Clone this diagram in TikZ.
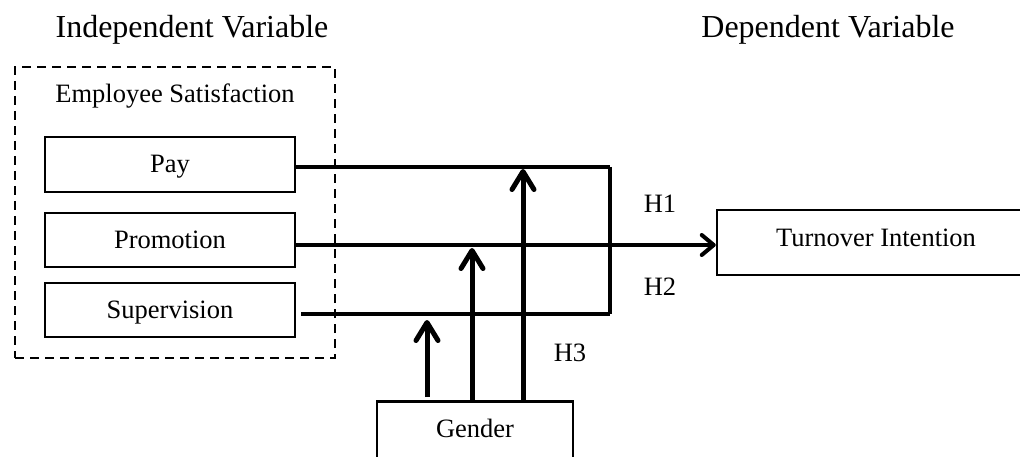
\documentclass[tikz,border=0pt]{standalone}
\usepackage{fontspec}
\setmainfont{Liberation Serif}
\usetikzlibrary{arrows.meta}
\begin{document}
\begin{tikzpicture}[x=1pt,y=-1pt,
  box/.style={draw,line width=2.5pt,inner sep=0pt,text height=18pt,text depth=2pt,font=\fontsize{26.5}{30}\selectfont},
  lbl/.style={inner sep=0pt,font=\fontsize{26.5}{30}\selectfont},
  hdr/.style={inner sep=0pt,font=\fontsize{32}{36}\selectfont},
  conn/.style={line width=3.5pt},
  uparr/.style={line width=5pt,-{Straight Barb[length=18pt,width=22pt,line width=5pt,round]}},
  harr/.style={line width=3.5pt,-{Straight Barb[length=12pt,width=20pt,line width=4pt,round]}}]
\clip (0,0) rectangle (1020,457);
\fill[white] (0,0) rectangle (1020,457);
% headers
\node[hdr] (ivh) at (192,30) {Independent Variable};
\node[hdr] (dvh) at (828,30) {Dependent Variable};
% dashed group
\node[draw,line width=2.5pt,dash pattern=on 9pt off 6pt,minimum width=320pt,minimum height=291pt,inner sep=0pt] (grp) at (175,212.5) {};
\node[lbl] (es) at (175,96) {Employee Satisfaction};
% boxes
\node[box,minimum width=250pt,minimum height=55pt] (pay) at (170,164.5) {Pay};
\node[box,minimum width=250pt,minimum height=54pt] (pro) at (170,240) {Promotion};
\node[box,minimum width=250pt,minimum height=54pt] (sup) at (170,310) {Supervision};
\node[box,minimum width=323pt,minimum height=65pt] (ti) at (878.5,242.5) {};
\node[lbl] (til) at (876,238) {Turnover Intention};
\node[box,minimum width=196pt,minimum height=90pt,anchor=north] (gen) at (475,400) {};
\node[lbl] (genl) at (475,428) {Gender};
% labels
\node[lbl] (h1) at (660,204) {H1};
\node[lbl] (h2) at (660,287) {H2};
\node[lbl] (h3) at (570,353) {H3};
% coordinates
\coordinate (payend) at (610,167);
\coordinate (supend) at (610,314);
\coordinate (a1s) at (427,397);
\coordinate (a1e) at (427,320);
% connectors
\draw[conn] ([yshift=-2.5pt]pay.east) -- (payend);
\draw[conn] ([xshift=5pt,yshift=-4pt]sup.east) -- (supend);
\draw[conn] (payend) -- (supend);
\draw[harr] ([yshift=-5pt]pro.east) -- (ti.west |- 0,245);
\draw[uparr] (a1s) -- (a1e);
\draw[uparr] (gen.north -| 472,0) -- (472,248);
\draw[uparr] (gen.north -| 523,0) -- (523,169);
\end{tikzpicture}
\end{document}
